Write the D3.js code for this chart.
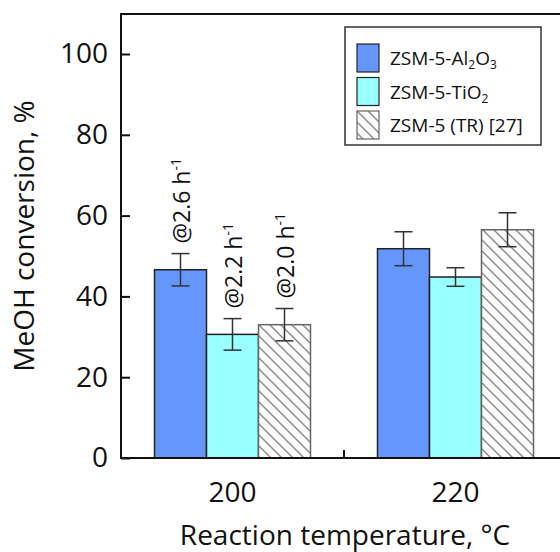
<!DOCTYPE html>
<html>
<head>
<meta charset="utf-8">
<script src="https://cdn.jsdelivr.net/npm/d3@7"></script>
<style>
  body { margin: 0; background: #fff; }
  text { font-family: "Open Sans", sans-serif; fill: #111; }
</style>
</head>
<body>
<div id="chart"></div>
<script>
// chart values
const temperatures = ["200", "220"];
const seriesNames = ["ZSM-5-Al2O3", "ZSM-5-TiO2", "ZSM-5 (TR) [27]"];
const conversion = {
  "ZSM-5-Al2O3": [46.6, 51.8],
  "ZSM-5-TiO2": [30.6, 44.8],
  "ZSM-5 (TR) [27]": [33.0, 56.5],
};
const errors = {
  "ZSM-5-Al2O3": [4.0, 4.2],
  "ZSM-5-TiO2": [3.9, 2.3],
  "ZSM-5 (TR) [27]": [4.0, 4.2],
};
// space velocity notes, only shown at 200 °C
const notes = ["@2.6 h", "@2.2 h", "@2.0 h"];
const yTicks = [0, 20, 40, 60, 80, 100];

const width = 560, height = 552;
const margin = { left: 121, top: 14, bottom: 94 };

const svg = d3.select("#chart").append("svg")
  .attr("width", width)
  .attr("height", height);

// hatch for the literature series
const defs = svg.append("defs");
const hatch = defs.append("pattern")
  .attr("id", "hatch")
  .attr("patternUnits", "userSpaceOnUse")
  .attr("width", 11)
  .attr("height", 11);
hatch.append("rect").attr("width", 11).attr("height", 11).attr("fill", "#fdfdfd");
hatch.append("path")
  .attr("d", "M-2,-2 L13,13 M-2,9 L2,13 M9,-2 L13,2")
  .attr("stroke", "#8a8a8a")
  .attr("stroke-width", 1.4);

const fills = d3.scaleOrdinal()
  .domain(seriesNames)
  .range(["#6496fb", "#99ffff", "url(#hatch)"]);
const strokes = d3.scaleOrdinal()
  .domain(seriesNames)
  .range(["#222", "#222", "#666"]);

const y = d3.scaleLinear().domain([0, 100]).range([458, 54]);

// each temperature gets a 223px slot, the second one runs off the right edge
const x = d3.scaleBand().domain(temperatures).range([margin.left, margin.left + 446]);
const slot = x.bandwidth();
const xInner = d3.scaleBand().domain(seriesNames)
  .range([(slot - 156) / 2, (slot + 156) / 2]);

const rows = [];
temperatures.forEach((t, i) => {
  seriesNames.forEach((s, j) => {
    rows.push({ t: t, s: s, v: conversion[s][i], e: errors[s][i], note: i === 0 ? notes[j] : null });
  });
});

// bars
const g = svg.append("g");
g.selectAll("rect.bar")
  .data(rows)
  .join("rect")
  .attr("class", "bar")
  .attr("x", (d) => x(d.t) + xInner(d.s))
  .attr("y", (d) => y(d.v))
  .attr("width", xInner.bandwidth())
  .attr("height", (d) => y(0) - y(d.v))
  .attr("fill", (d) => fills(d.s))
  .attr("stroke", (d) => strokes(d.s))
  .attr("stroke-width", 1.5);

// error bars
const cx = (d) => x(d.t) + xInner(d.s) + xInner.bandwidth() / 2;
const err = g.selectAll("g.err").data(rows).join("g").attr("class", "err")
  .attr("stroke", "#333").attr("stroke-width", 1.5);
err.append("line")
  .attr("x1", cx).attr("x2", cx)
  .attr("y1", (d) => y(d.v + d.e)).attr("y2", (d) => y(d.v - d.e));
err.append("line")
  .attr("x1", (d) => cx(d) - 9).attr("x2", (d) => cx(d) + 9)
  .attr("y1", (d) => y(d.v + d.e)).attr("y2", (d) => y(d.v + d.e));
err.append("line")
  .attr("x1", (d) => cx(d) - 9).attr("x2", (d) => cx(d) + 9)
  .attr("y1", (d) => y(d.v - d.e)).attr("y2", (d) => y(d.v - d.e));

// rotated notes
const noteText = g.selectAll("text.note")
  .data(rows.filter((d) => d.note))
  .join("text")
  .attr("class", "note")
  .attr("font-size", 23)
  .attr("transform", (d) => `translate(${cx(d) + 9},${y(d.v + d.e) - 10}) rotate(-90)`);
noteText.append("tspan").text((d) => d.note);
noteText.append("tspan").attr("font-size", 14).attr("dy", -9).text("-1");

// axes
const yAxis = svg.append("g")
  .attr("transform", `translate(${margin.left},0)`)
  .call(d3.axisLeft(y).tickValues(yTicks).tickSizeInner(-9).tickSizeOuter(0).tickPadding(13));
yAxis.select(".domain").remove();
yAxis.selectAll("line").attr("stroke", "#111").attr("stroke-width", 2);
yAxis.selectAll("text").attr("font-size", 28).attr("font-family", "Open Sans").attr("fill", "#111");

const xAxis = svg.append("g")
  .attr("transform", `translate(0,${y(0)})`)
  .call(d3.axisBottom(x).tickSize(0).tickPadding(24));
xAxis.select(".domain").remove();
xAxis.selectAll("line").remove();
xAxis.selectAll("text").attr("font-size", 28).attr("font-family", "Open Sans").attr("fill", "#111")
  .attr("dy", "0.71em");

// slot separators on the x axis
svg.selectAll("line.sep")
  .data(temperatures.slice(1))
  .join("line")
  .attr("class", "sep")
  .attr("x1", (d) => x(d)).attr("x2", (d) => x(d))
  .attr("y1", y(0)).attr("y2", y(0) - 8)
  .attr("stroke", "#111").attr("stroke-width", 2);

// frame: left, bottom, top
svg.append("path")
  .attr("d", `M${width},${margin.top} H${margin.left} V${y(0)} H${width}`)
  .attr("fill", "none")
  .attr("stroke", "#111")
  .attr("stroke-width", 2);

// axis titles
svg.append("text")
  .attr("transform", `translate(34,${236}) rotate(-90)`)
  .attr("text-anchor", "middle")
  .attr("font-size", 28)
  .text("MeOH conversion, %");
svg.append("text")
  .attr("x", 345)
  .attr("y", 545)
  .attr("text-anchor", "middle")
  .attr("font-size", 28)
  .text("Reaction temperature, °C");

// legend
const legend = svg.append("g").attr("transform", "translate(345,27)");
legend.append("rect")
  .attr("width", 196).attr("height", 118)
  .attr("fill", "#fff").attr("stroke", "#333").attr("stroke-width", 1.5);
const legendLabels = [
  [["ZSM-5-Al", 0], ["2", 1], ["O", -1], ["3", 1]],
  [["ZSM-5-TiO", 0], ["2", 1]],
  [["ZSM-5 (TR) [27]", 0]],
];
const item = legend.selectAll("g.item").data(seriesNames).join("g")
  .attr("class", "item")
  .attr("transform", (d, i) => `translate(12,${17 + i * 33.5})`);
item.append("rect")
  .attr("width", 22).attr("height", 28)
  .attr("fill", (d) => fills(d))
  .attr("stroke", (d) => strokes(d))
  .attr("stroke-width", 1.2);
const lt = item.append("text")
  .attr("x", 33).attr("y", 21)
  .attr("font-size", 19);
lt.each(function (d, i) {
  const t = d3.select(this);
  legendLabels[i].forEach(([s, shift]) => {
    t.append("tspan")
      .attr("font-size", shift === 1 ? 12 : 19)
      .attr("dy", shift === 1 ? 4 : shift === -1 ? -4 : 0)
      .text(s);
  });
});
</script>
</body>
</html>
